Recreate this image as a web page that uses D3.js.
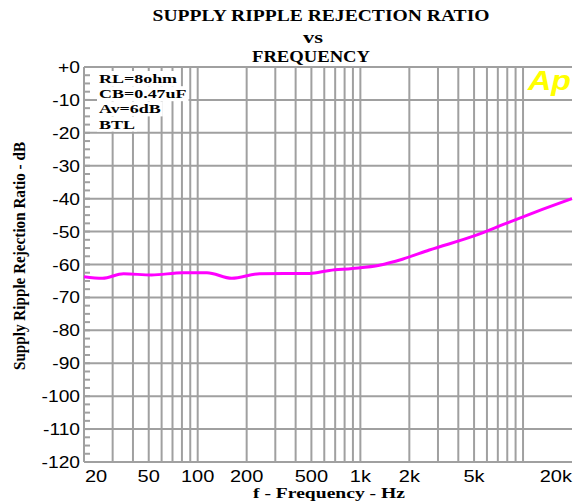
<!DOCTYPE html>
<html lang="en">
<head>
<meta charset="utf-8">
<style>
  body { margin: 0; background: #fff; }
  svg { display: block; }
  .tick-label { font-family: "Liberation Sans", Arial, sans-serif; font-size: 16px; fill: #000; }
  .serif-bold { font-family: "Liberation Serif", "Times New Roman", serif; font-weight: bold; fill: #000; }
</style>
</head>
<body>
<svg width="583" height="504"></svg>
<script src="https://d3js.org/d3.v7.min.js"></script>
<script type="text/javascript">
// data
var freqs = [20, 26, 35, 52, 81, 114, 162, 240, 488, 646, 894, 1310, 1812, 2654, 5156, 7876, 12000, 20000];
var rejection = [-63.7, -64.2, -62.8, -63.2, -62.5, -62.5, -64.2, -62.8, -62.7, -61.8, -61.2, -60.2, -58.4, -55.6, -51.1, -47.5, -44, -40];

var xTickValues = [20, 50, 100, 200, 500, 1000, 2000, 5000, 20000];
var xTickLabels = ["20", "50", "100", "200", "500", "1k", "2k", "5k", "20k"];
var xGridValues = [30, 40, 50, 60, 70, 80, 90, 100, 200, 300, 400, 500, 600, 700, 800, 900,
                   1000, 2000, 3000, 4000, 5000, 6000, 7000, 8000, 9000, 10000];
var yTickValues = [0, -10, -20, -30, -40, -50, -60, -70, -80, -90, -100, -110, -120];
var yTickLabels = ["+0", "-10", "-20", "-30", "-40", "-50", "-60", "-70", "-80", "-90", "-100", "-110", "-120"];
var notes = ["RL=8ohm", "CB=0.47uF", "Av=6dB", "BTL"];

var svg = d3.select("svg");
var plotLeft = 84, plotRight = 572, plotTop = 67, plotBottom = 462;

var x = d3.scaleLog().domain([20, 20000]).range([plotLeft, plotRight]);
var y = d3.scaleLinear().domain([-120, 0]).range([plotBottom, plotTop]);

// the original image is stretched sideways, so widen the glyphs
function stretch(sel, factor) {
    sel.each(function() {
        var w = this.getComputedTextLength();
        d3.select(this)
            .attr("textLength", w * factor)
            .attr("lengthAdjust", "spacingAndGlyphs");
    });
    return sel;
}

var grid = svg.append("g").attr("stroke", "#a0a0a0").attr("stroke-width", 2);

// horizontal grid lines
grid.selectAll(".hgrid")
    .data(yTickValues)
    .enter().append("line")
    .attr("x1", plotLeft).attr("x2", plotRight)
    .attr("y1", function(d) { return y(d); })
    .attr("y2", function(d) { return y(d); });

// vertical grid lines
grid.selectAll(".vgrid")
    .data(xGridValues)
    .enter().append("line")
    .attr("x1", function(d) { return x(d); })
    .attr("x2", function(d) { return x(d); })
    .attr("y1", plotTop).attr("y2", plotBottom);

// left axis line + minor ticks every 2.5 dB
grid.append("line").attr("x1", plotLeft).attr("x2", plotLeft).attr("y1", plotTop).attr("y2", plotBottom);
grid.selectAll(".minor")
    .data(d3.range(0, -120.1, -2.5))
    .enter().append("line")
    .attr("x1", plotLeft).attr("x2", plotLeft + 6)
    .attr("y1", function(d) { return y(d); })
    .attr("y2", function(d) { return y(d); });

// tick labels
stretch(svg.selectAll(".ylab")
    .data(yTickValues)
    .enter().append("text")
    .attr("class", "tick-label")
    .attr("x", 80)
    .attr("y", function(d) { return y(d) + 6; })
    .attr("text-anchor", "end")
    .text(function(d, i) { return yTickLabels[i]; }), 1.2);

stretch(svg.selectAll(".xlab")
    .data(xTickValues)
    .enter().append("text")
    .attr("class", "tick-label")
    .attr("x", function(d, i) { return i == 0 ? plotLeft + 1 : x(d); })
    .attr("y", 482)
    .attr("text-anchor", function(d, i) {
        if (i == 0) return "start";
        if (i == xTickValues.length - 1) return "end";
        return "middle";
    })
    .text(function(d, i) { return xTickLabels[i]; }), 1.25);

// notes box
var noteG = svg.append("g");
notes.forEach(function(n, i) {
    var t = noteG.append("text")
        .attr("class", "serif-bold")
        .attr("x", 99)
        .attr("y", 83 + i * 15.2)
        .attr("font-size", 13.5)
        .text(n);
    stretch(t, 1.33);
    var bb = t.node().getBBox();
    noteG.insert("rect", "text")
        .attr("x", bb.x - 2).attr("y", bb.y)
        .attr("width", bb.width + 4).attr("height", bb.height)
        .attr("fill", "#fff");
});

// Ap logo
svg.append("text")
    .attr("x", 528).attr("y", 90)
    .attr("font-family", "Liberation Sans, Arial, sans-serif")
    .attr("font-weight", "bold")
    .attr("font-style", "italic")
    .attr("font-size", 28)
    .attr("fill", "#ffff00")
    .attr("textLength", 43)
    .attr("lengthAdjust", "spacingAndGlyphs")
    .text("Ap");

// curve
var line = d3.line()
    .x(function(d) { return x(d[0]); })
    .y(function(d) { return y(d[1]); })
    .curve(d3.curveMonotoneX);

svg.append("path")
    .datum(d3.zip(freqs, rejection))
    .attr("fill", "none")
    .attr("stroke", "#ff00ff")
    .attr("stroke-width", 3)
    .attr("d", line);

// titles
var titles = [["SUPPLY RIPPLE REJECTION RATIO", 321, 21, 337], ["vs", 313, 43, 20], ["FREQUENCY", 311, 62, 118]];
titles.forEach(function(t) {
    svg.append("text")
        .attr("class", "serif-bold")
        .attr("x", t[1]).attr("y", t[2])
        .attr("text-anchor", "middle")
        .attr("font-size", 16.5)
        .attr("textLength", t[3])
        .attr("lengthAdjust", "spacingAndGlyphs")
        .text(t[0]);
});

svg.append("text")
    .attr("class", "serif-bold")
    .attr("x", 329).attr("y", 498)
    .attr("text-anchor", "middle")
    .attr("font-size", 15)
    .attr("textLength", 152)
    .attr("lengthAdjust", "spacingAndGlyphs")
    .text("f - Frequency - Hz");

svg.append("text")
    .attr("class", "serif-bold")
    .attr("transform", "translate(25,256) rotate(-90)")
    .attr("text-anchor", "middle")
    .attr("font-size", 17)
    .attr("textLength", 228)
    .attr("lengthAdjust", "spacingAndGlyphs")
    .text("Supply Ripple Rejection Ratio - dB");
</script>
</body>
</html>
